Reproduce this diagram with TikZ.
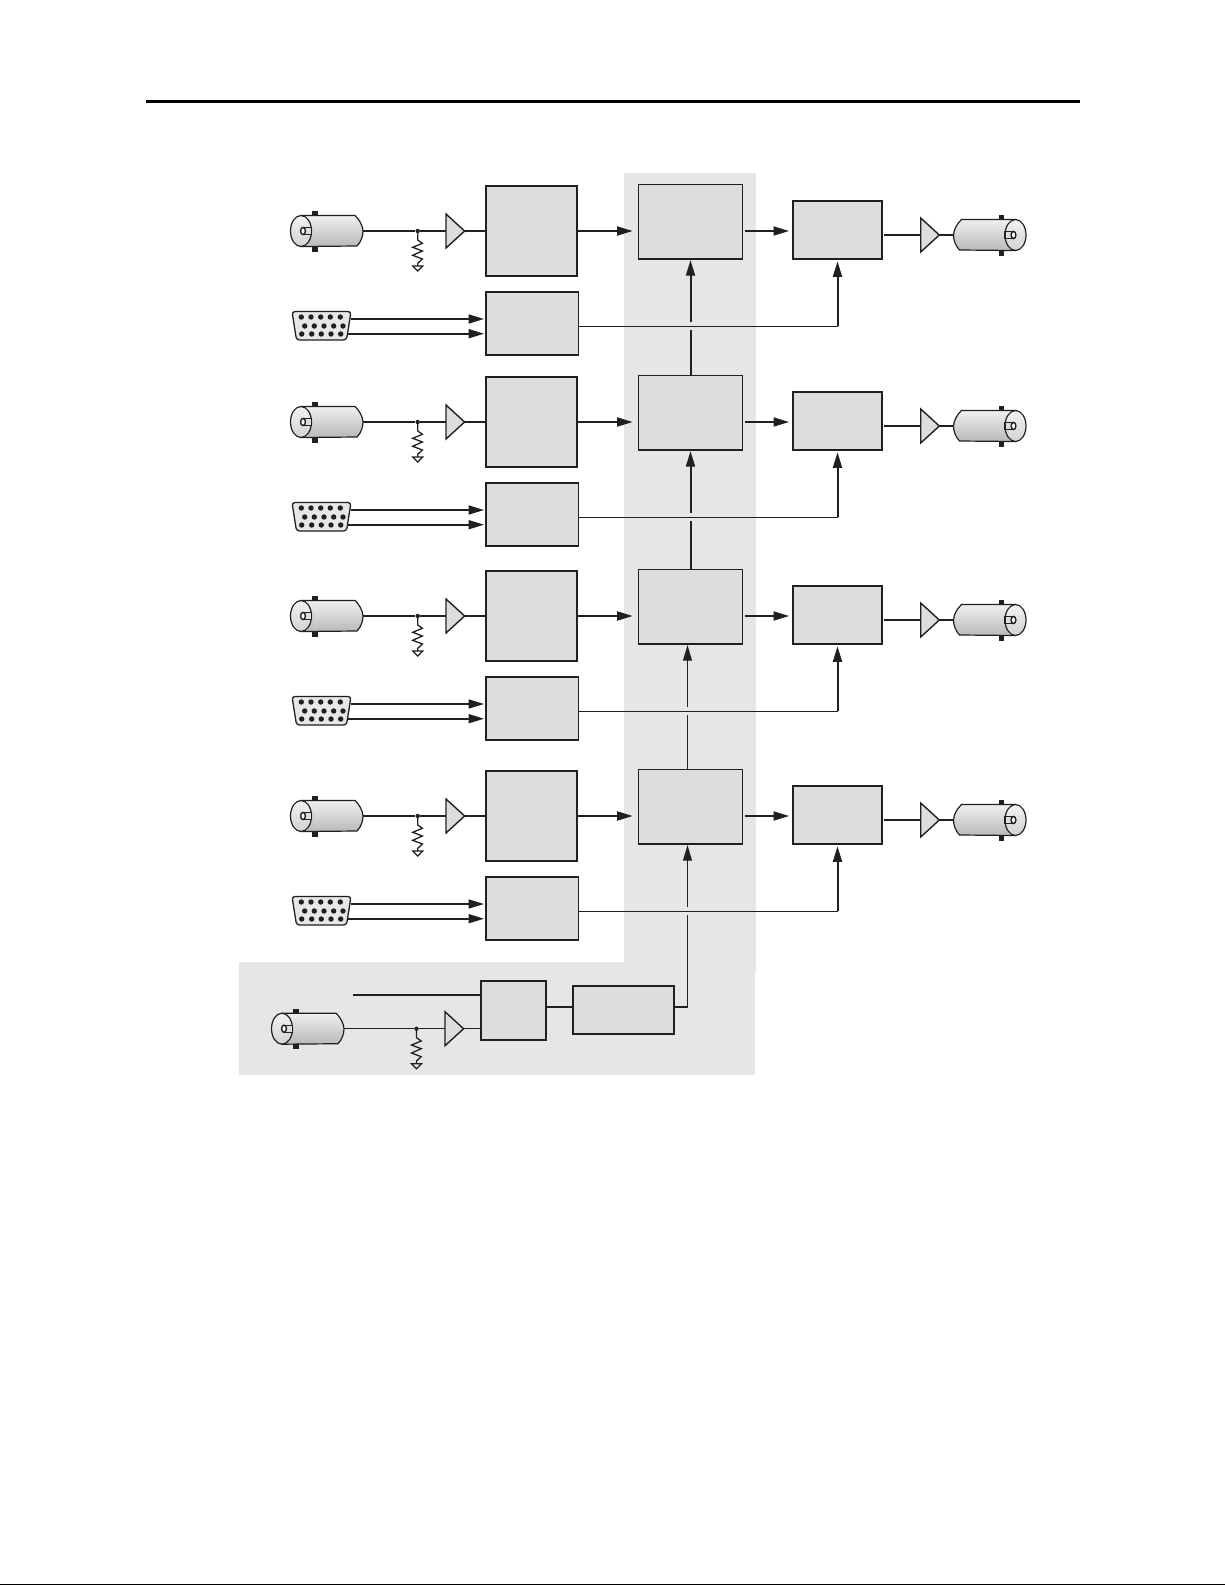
\documentclass[tikz,border=0pt]{standalone}
\usepackage{amsmath}
\usetikzlibrary{arrows.meta,shapes.geometric}
\definecolor{ink}{HTML}{231F20}
\definecolor{boxgrey}{HTML}{DCDDDF}
\definecolor{panelgrey}{HTML}{E5E6E8}
\tikzset{
  inbox/.style={draw=ink, fill=boxgrey, line width=1pt, minimum width=45.5pt, minimum height=45pt, inner sep=0pt, outer sep=0pt},
  ctlbox/.style={draw=ink, fill=boxgrey, line width=.8pt, minimum width=46.3pt, minimum height=31.6pt, inner sep=0pt, outer sep=0pt},
  muxbox/.style={draw=ink, fill=boxgrey, line width=.75pt, minimum width=52.2pt, minimum height=37.3pt, inner sep=0pt, outer sep=0pt},
  outbox/.style={draw=ink, fill=boxgrey, line width=.85pt, minimum width=44.8pt, minimum height=29.3pt, inner sep=0pt, outer sep=0pt},
  mixbox/.style={draw=ink, fill=boxgrey, line width=.9pt, minimum width=32.5pt, minimum height=29.8pt, inner sep=0pt, outer sep=0pt},
  delaybox/.style={draw=ink, fill=boxgrey, line width=.9pt, minimum width=50.2pt, minimum height=24.3pt, inner sep=0pt, outer sep=0pt},
  bufamp/.style={draw=ink, fill=boxgrey, line width=.7pt, isosceles triangle, isosceles triangle stretches, minimum width=17pt, minimum height=9.3pt, inner sep=0pt, outer sep=0pt, anchor=west},
  jdot/.style={circle, fill=ink, minimum size=2.2pt, inner sep=0pt},
  wire/.style={draw=ink, line width=.9pt},
  fine/.style={draw=ink, line width=.5pt},
  sigtip/.style={-{Triangle[length=7.8pt,width=4.5pt]}},
  bnc/.pic={
    \draw[ink, line width=.6pt, top color=gray!12, middle color=white, bottom color=gray!55]
      (0,-15.5) -- (54,-15.5) .. controls (58,-12) and (62,-5) .. (62,0)
      .. controls (62,5) and (60,11) .. (56,15) -- (0,15.5) -- cycle;
    \fill[ink] (11.3,-20) rectangle (16.7,-15.5);
    \fill[ink] (11.3,15.5) rectangle (16.7,20.5);
    \draw[ink, line width=.6pt, top color=gray!10, bottom color=gray!35] (0,0) ellipse [x radius=10.5, y radius=15.5];
    \draw[ink, line width=.55pt, fill=boxgrey] (2,-3.5) rectangle (10.5,3.5);
    \draw[ink, line width=.7pt, fill=white] (2,0) ellipse [x radius=2.4, y radius=3.6];
    \coordinate (-tip) at (62,0);
  },
  vgaport/.pic={
    \draw[ink, line width=.65pt, fill=boxgrey!70, rounded corners=1.5pt]
      (-29.5,-14.5) -- (29.5,-14.5) -- (25,14) -- (-25,14) -- cycle;
    \fill[ink] (-20.2,-9) circle [radius=2.7] (-10.5,-9) circle [radius=2.7] (-.8,-9) circle [radius=2.7] (8.8,-9) circle [radius=2.7] (18.8,-9) circle [radius=2.7];
    \fill[ink] (-16.8,0) circle [radius=2.7] (-7.2,0) circle [radius=2.7] (2.5,0) circle [radius=2.7] (12.2,0) circle [radius=2.7] (21.5,0) circle [radius=2.7];
    \fill[ink] (-19.8,8) circle [radius=2.7] (-9.8,8) circle [radius=2.7] (-.2,8) circle [radius=2.7] (9.5,8) circle [radius=2.7] (19.2,8) circle [radius=2.7];
    \coordinate (-upper) at (29.5,-7);
    \coordinate (-lower) at (25.5,7.7);
  },
  load/.pic={
    \draw[ink, line width=.65pt] (0,0) -- (0,9) -- (4.7,12.3) -- (-5,16.3) -- (4.7,20) -- (-5,24.3) -- (4.7,28) -- (0,32.3) -- (0,35);
    \draw[ink, line width=.6pt] (-5,35) -- (5,35) -- (0,40) -- cycle;
  }
}
\begin{document}
\begin{tikzpicture}[x=.5pt,y=-.5pt]
    \useasboundingbox (0,0) rectangle (1225,1585);
    \fill[white] (0,0) rectangle (1225,1585);
    \draw[black, line width=1.7pt] (146,101.3) -- (1079.5,101.3);
    \draw[black, line width=.5pt] (0,1584.5) -- (1225,1584.5);
    \fill[panelgrey] (624,173) rectangle (756,973);
    \fill[panelgrey] (239,962) rectangle (755,1075);

    \node[inbox] (in1) at (531.5,231) {};
    \node[ctlbox] (ctl1) at (532,323.3) {};
    \node[muxbox] (mux1) at (690.5,221.8) {};
    \node[outbox] (out1) at (837.5,230) {};
    \node[inbox] (in2) at (531.5,422) {};
    \node[ctlbox] (ctl2) at (532,514.3) {};
    \node[muxbox] (mux2) at (690.5,412.8) {};
    \node[outbox] (out2) at (837.5,421) {};
    \node[inbox] (in3) at (531.5,616) {};
    \node[ctlbox] (ctl3) at (532,708.3) {};
    \node[muxbox] (mux3) at (690.5,606.8) {};
    \node[outbox] (out3) at (837.5,615) {};
    \node[inbox] (in4) at (531.5,816) {};
    \node[ctlbox] (ctl4) at (532,908.3) {};
    \node[muxbox] (mux4) at (690.5,806.8) {};
    \node[outbox] (out4) at (837.5,815) {};
    \node[mixbox] (mixer) at (513.5,1010.5) {};
    \node[delaybox] (delay) at (623.5,1010) {};

    \node[bufamp] (ampin1) at (446,231) {};
    \node[bufamp] (ampin2) at (446,422) {};
    \node[bufamp] (ampin3) at (446,616) {};
    \node[bufamp] (ampin4) at (446,816) {};
    \node[bufamp] (ampin5) at (445,1028.7) {};
    \node[bufamp] (ampout1) at (920.7,235) {};
    \node[bufamp] (ampout2) at (920.7,426) {};
    \node[bufamp] (ampout3) at (920.7,620) {};
    \node[bufamp] (ampout4) at (920.7,820) {};

    \node[jdot] (jn1) at (417.7,231) {};
    \node[jdot] (jn2) at (417.7,422) {};
    \node[jdot] (jn3) at (417.7,616) {};
    \node[jdot] (jn4) at (417.7,816) {};
    \node[jdot] (jn5) at (416.5,1028.7) {};
    \pic at (jn1) {load};
    \pic at (jn2) {load};
    \pic at (jn3) {load};
    \pic at (jn4) {load};
    \pic at (jn5) {load};

    \pic (bncin1) at (301,231) {bnc};
    \pic (bncin2) at (301,422) {bnc};
    \pic (bncin3) at (301,616) {bnc};
    \pic (bncin4) at (301,816) {bnc};
    \pic (bncin5) at (282,1028.7) {bnc};
    \pic[xscale=-1] (bncout1) at (1015.5,235) {bnc};
    \pic[xscale=-1] (bncout2) at (1015.5,426) {bnc};
    \pic[xscale=-1] (bncout3) at (1015.5,620) {bnc};
    \pic[xscale=-1] (bncout4) at (1015.5,820) {bnc};
    \pic (vga1) at (321.5,326) {vgaport};
    \pic (vga2) at (321.5,517) {vgaport};
    \pic (vga3) at (321.5,711) {vgaport};
    \pic (vga4) at (321.5,911) {vgaport};

    \coordinate (turn1) at (837.5,326);
    \coordinate (turn2) at (837.5,517);
    \coordinate (turn3) at (837.5,711);
    \coordinate (turn4) at (837.5,911);
    \coordinate (cross1) at (690.5,326);
    \coordinate (cross2) at (690.5,517);
    \coordinate (cross3) at (687.5,711);
    \coordinate (cross4) at (687.5,911);
    \coordinate (riser) at (687.5,1006.7);
    \coordinate (sync) at (353,994.7);

    \draw[wire] (bncin1-tip) -- (jn1) -- (ampin1.west);
    \draw[wire] (ampin1.east) -- (in1.west);
    \draw[wire, sigtip, shorten >=2.8pt] (in1.east) -- (in1.east -| mux1.west);
    \draw[wire, sigtip, shorten <=1.2pt, shorten >=1.8pt] (mux1.east |- in1.east) -- (out1.west |- in1.east);
    \draw[wire, shorten <=.6pt] (out1.east |- ampout1.west) -- (ampout1.west);
    \draw[wire] (ampout1.east) -- (bncout1-tip);
    \draw[wire, sigtip, shorten >=.8pt] (vga1-upper) -- (vga1-upper -| ctl1.west);
    \draw[wire, sigtip, shorten >=.8pt] (vga1-lower) -- (vga1-lower -| ctl1.west);
    \draw[fine] (ctl1.east |- turn1) -- (turn1);
    \draw[wire, line width=1pt, sigtip, shorten >=1pt] (turn1) -- (out1.south);

    \draw[wire] (bncin2-tip) -- (jn2) -- (ampin2.west);
    \draw[wire] (ampin2.east) -- (in2.west);
    \draw[wire, sigtip, shorten >=2.8pt] (in2.east) -- (in2.east -| mux2.west);
    \draw[wire, sigtip, shorten <=1.2pt, shorten >=1.8pt] (mux2.east |- in2.east) -- (out2.west |- in2.east);
    \draw[wire, shorten <=.6pt] (out2.east |- ampout2.west) -- (ampout2.west);
    \draw[wire] (ampout2.east) -- (bncout2-tip);
    \draw[wire, sigtip, shorten >=.8pt] (vga2-upper) -- (vga2-upper -| ctl2.west);
    \draw[wire, sigtip, shorten >=.8pt] (vga2-lower) -- (vga2-lower -| ctl2.west);
    \draw[fine] (ctl2.east |- turn2) -- (turn2);
    \draw[wire, line width=1pt, sigtip, shorten >=1pt] (turn2) -- (out2.south);

    \draw[wire] (bncin3-tip) -- (jn3) -- (ampin3.west);
    \draw[wire] (ampin3.east) -- (in3.west);
    \draw[wire, sigtip, shorten >=2.8pt] (in3.east) -- (in3.east -| mux3.west);
    \draw[wire, sigtip, shorten <=1.2pt, shorten >=1.8pt] (mux3.east |- in3.east) -- (out3.west |- in3.east);
    \draw[wire, shorten <=.6pt] (out3.east |- ampout3.west) -- (ampout3.west);
    \draw[wire] (ampout3.east) -- (bncout3-tip);
    \draw[wire, sigtip, shorten >=.8pt] (vga3-upper) -- (vga3-upper -| ctl3.west);
    \draw[wire, sigtip, shorten >=.8pt] (vga3-lower) -- (vga3-lower -| ctl3.west);
    \draw[fine] (ctl3.east |- turn3) -- (turn3);
    \draw[wire, line width=1pt, sigtip, shorten >=1pt] (turn3) -- (out3.south);

    \draw[wire] (bncin4-tip) -- (jn4) -- (ampin4.west);
    \draw[wire] (ampin4.east) -- (in4.west);
    \draw[wire, sigtip, shorten >=2.8pt] (in4.east) -- (in4.east -| mux4.west);
    \draw[wire, sigtip, shorten <=1.2pt, shorten >=1.8pt] (mux4.east |- in4.east) -- (out4.west |- in4.east);
    \draw[wire, shorten <=.6pt] (out4.east |- ampout4.west) -- (ampout4.west);
    \draw[wire] (ampout4.east) -- (bncout4-tip);
    \draw[wire, sigtip, shorten >=.8pt] (vga4-upper) -- (vga4-upper -| ctl4.west);
    \draw[wire, sigtip, shorten >=.8pt] (vga4-lower) -- (vga4-lower -| ctl4.west);
    \draw[fine] (ctl4.east |- turn4) -- (turn4);
    \draw[wire, line width=1pt, sigtip, shorten >=1pt] (turn4) -- (out4.south);

    \draw[wire, line width=1pt, shorten >=2.1pt] (mux2.north) -- (cross1);
    \draw[wire, line width=1pt, sigtip, shorten <=2.1pt, shorten >=.5pt] (cross1) -- (mux1.south);
    \draw[wire, line width=1pt, shorten >=2.1pt] (mux3.north) -- (cross2);
    \draw[wire, line width=1pt, sigtip, shorten <=2.1pt, shorten >=.5pt] (cross2) -- (mux2.south);
    \draw[fine, shorten >=2.1pt] (mux4.north -| cross3) -- (cross3);
    \draw[fine, sigtip, shorten <=2.1pt, shorten >=.5pt] (cross3) -- (mux3.south -| cross3);
    \draw[fine, shorten >=2.1pt] (riser) -- (cross4);
    \draw[fine, sigtip, shorten <=2.1pt, shorten >=.5pt] (cross4) -- (mux4.south -| cross4);

    \draw[fine] (bncin5-tip) -- (jn5) -- (ampin5.west);
    \draw[fine] (ampin5.east) -- (ampin5.east -| mixer.west);
    \draw[wire] (sync) -- (sync -| mixer.west);
    \draw[wire] (mixer.east |- riser) -- (delay.west |- riser);
    \draw[wire] (delay.east |- riser) -- (riser);
\end{tikzpicture}
\end{document}
